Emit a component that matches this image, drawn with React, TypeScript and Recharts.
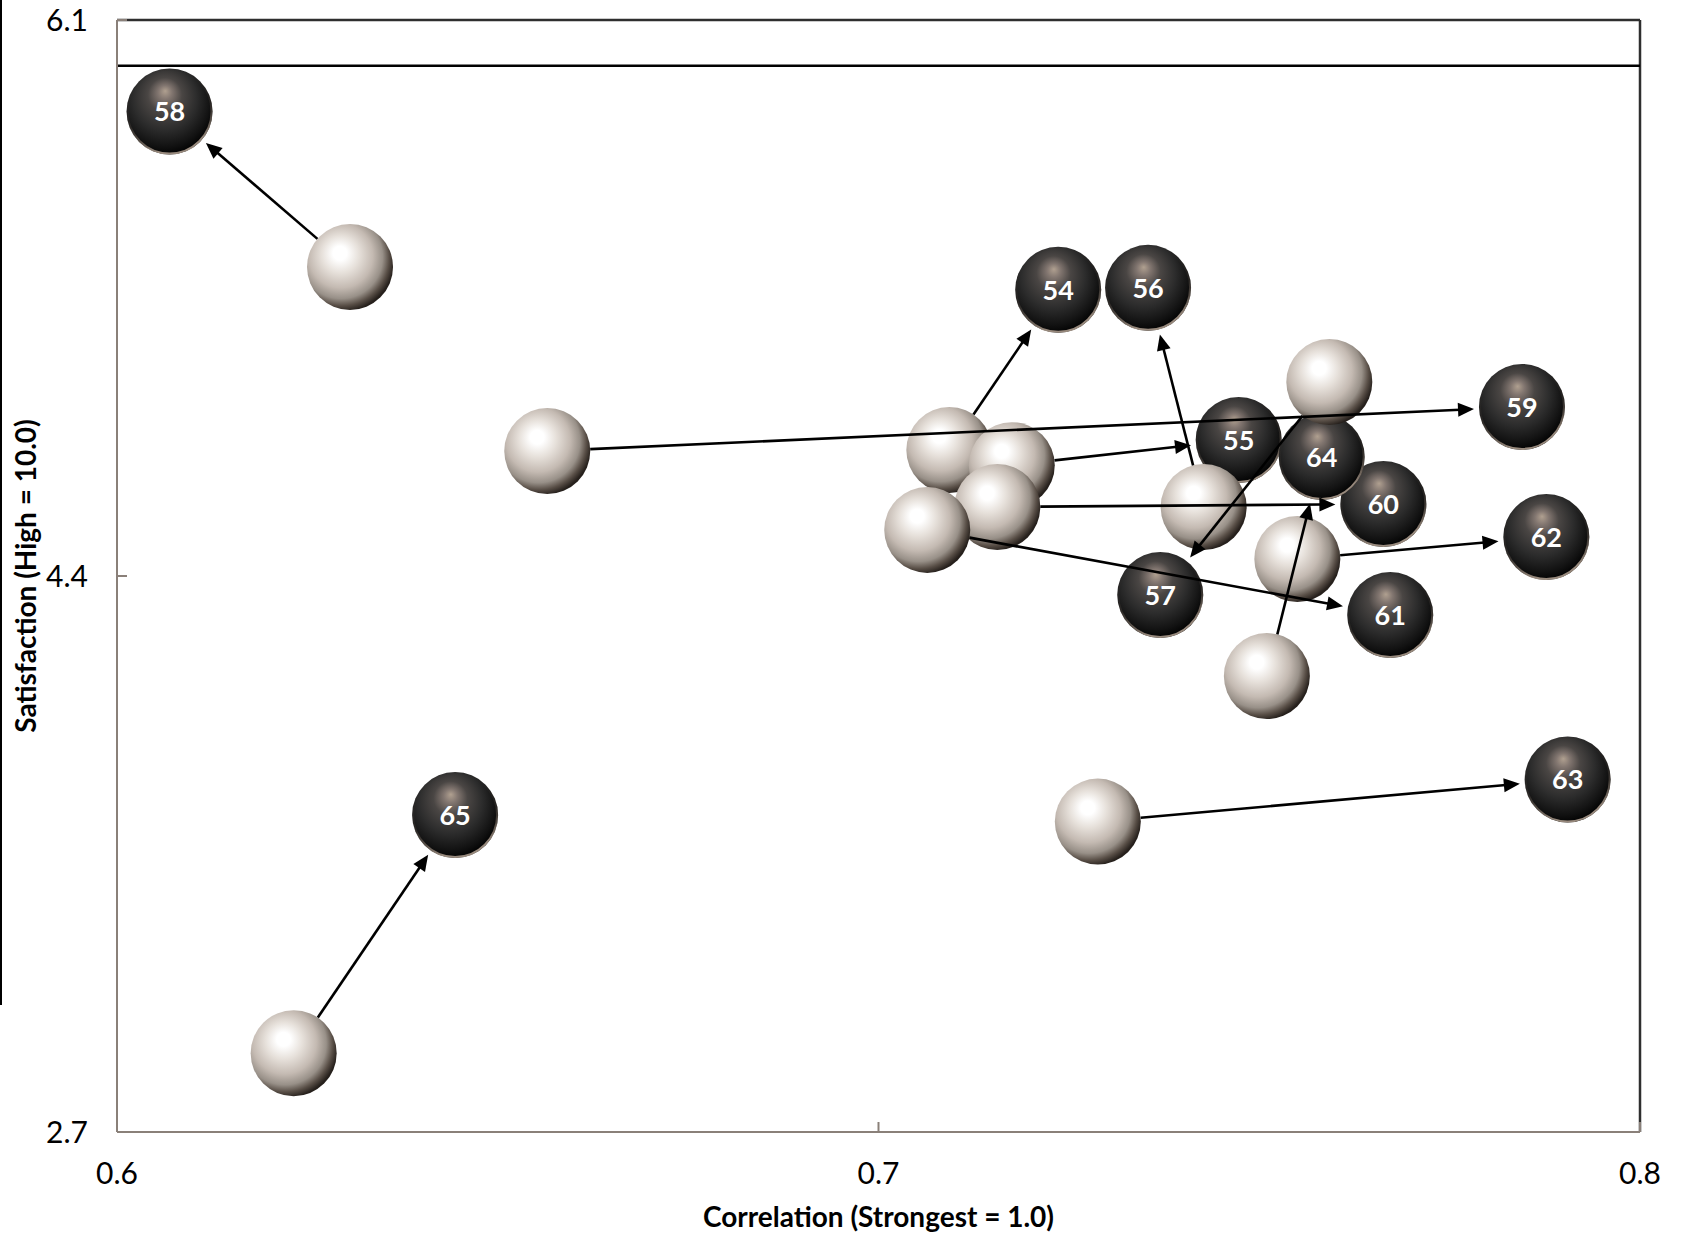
import React from 'react';
import { ScatterChart, Scatter, XAxis, YAxis, ReferenceLine } from 'recharts';

// ---- data ----
const ids = ['54', '55', '56', '57', '58', '59', '60', '61', '62', '63', '64', '65'];
const beforeX = [0.7093, 0.7175, 0.7427, 0.7592, 0.6306, 0.6565, 0.7156, 0.7064, 0.755, 0.7288, 0.751, 0.6232];
const beforeY = [4.785, 4.739, 4.611, 4.993, 5.345, 4.782, 4.611, 4.541, 4.452, 3.649, 4.094, 2.941];
const afterX = [0.7236, 0.7473, 0.7354, 0.737, 0.6069, 0.7845, 0.7663, 0.7672, 0.7877, 0.7905, 0.7582, 0.6444];
const afterY = [5.275, 4.816, 5.281, 4.342, 5.82, 4.917, 4.62, 4.281, 4.519, 3.778, 4.764, 3.669];
const xTicks = [0.6, 0.7, 0.8];
const yTicks = [2.7, 4.4, 6.1];
const benchmarkY = 5.96;
const xTitle = 'Correlation (Strongest = 1.0)';
const yTitle = 'Satisfaction (High = 10.0)';

const beforeData = ids.map((id, i) => ({ id, x: beforeX[i], y: beforeY[i] }));
const afterData = ids.map((id, i) => ({ id, x: afterX[i], y: afterY[i] }));
const pairs = ids.map((id, i) => [beforeData[i], afterData[i]]);

// ---- styles ----
const R = 43;
const FONT = "Lato, 'DejaVu Sans', sans-serif";
const AXIS = '#8a8079';

const DarkBall = (props: any) => {
  const { cx, cy, payload } = props;
  if (cx == null || cy == null) return <g />;
  return (
    <g>
      <circle cx={cx} cy={cy} r={R} fill="url(#darkBall)" />
      <circle cx={cx} cy={cy} r={R - 1} fill="none" stroke="url(#darkRim)" strokeWidth={2} />
      <text x={cx} y={cy} dy="0.36em" textAnchor="middle" fill="#ffffff" fontFamily={FONT} fontWeight={700} fontSize={27}>
        {payload.id}
      </text>
    </g>
  );
};

const LightBall = (props: any) => {
  const { cx, cy } = props;
  if (cx == null || cy == null) return <g />;
  return <circle cx={cx} cy={cy} r={R} fill="url(#lightBall)" />;
};

const Empty = () => <g />;

const renderArrow = (props: any) => {
  const pts = props.points;
  if (!pts || pts.length < 2) return <g />;
  const a = pts[0];
  const b = pts[1];
  const dx = b.x - a.x;
  const dy = b.y - a.y;
  const len = Math.hypot(dx, dy) || 1;
  const ux = dx / len;
  const uy = dy / len;
  const sx = a.x + ux * R;
  const sy = a.y + uy * R;
  const tx = b.x - ux * (R + 5);
  const ty = b.y - uy * (R + 5);
  const head = 16;
  const half = 7;
  const hx = tx - ux * head;
  const hy = ty - uy * head;
  const px = -uy;
  const py = ux;
  return (
    <g>
      <line x1={sx} y1={sy} x2={hx + ux * 2} y2={hy + uy * 2} stroke="#000" strokeWidth={2.6} />
      <polygon
        points={`${tx},${ty} ${hx + px * half},${hy + py * half} ${hx - px * half},${hy - py * half}`}
        fill="#000"
      />
    </g>
  );
};

export default function App() {
  return (
    <div style={{ position: 'absolute', left: 0, top: 0, width: 1683, height: 1233, background: '#fff' }}>
      <svg width={0} height={0} style={{ position: 'absolute' }}>
        <defs>
          <radialGradient id="lightBall" cx="40%" cy="40%" r="62%" fx="38%" fy="33%">
            <stop offset="0%" stopColor="#ffffff" />
            <stop offset="13%" stopColor="#ffffff" />
            <stop offset="35%" stopColor="#e6e0da" />
            <stop offset="60%" stopColor="#c4bab2" />
            <stop offset="78%" stopColor="#989088" />
            <stop offset="90%" stopColor="#584e46" />
            <stop offset="100%" stopColor="#26201c" />
          </radialGradient>
          <radialGradient id="darkBall" cx="44%" cy="40%" r="62%" fx="45%" fy="26%">
            <stop offset="0%" stopColor="#b0a090" />
            <stop offset="13%" stopColor="#827670" />
            <stop offset="32%" stopColor="#4a4644" />
            <stop offset="60%" stopColor="#2c2c2c" />
            <stop offset="85%" stopColor="#121212" />
            <stop offset="100%" stopColor="#000000" />
          </radialGradient>
          <linearGradient id="darkRim" x1="0" y1="0" x2="0.3" y2="1">
            <stop offset="0%" stopColor="#000" stopOpacity={0} />
            <stop offset="60%" stopColor="#6a5e54" stopOpacity={0.2} />
            <stop offset="100%" stopColor="#a8988a" stopOpacity={0.9} />
          </linearGradient>
        </defs>
      </svg>
      <div style={{ position: 'absolute', left: 0, top: 0, width: 2, height: 1005, background: '#000' }} />
      <ScatterChart width={1683} height={1233} margin={{ top: 20, right: 43, bottom: 41, left: 57 }}>
        <XAxis
          type="number"
          dataKey="x"
          domain={[0.6, 0.8]}
          ticks={xTicks}
          tickFormatter={(v: number) => v.toFixed(1)}
          axisLine={{ stroke: AXIS, strokeWidth: 2 }}
          tickLine={{ stroke: AXIS, strokeWidth: 2 }}
          tickSize={-10}
          tickMargin={41}
          tick={{ fill: '#000', fontSize: 30, fontFamily: FONT }}
          height={60}
          allowDataOverflow
          label={{ value: xTitle, position: 'bottom', offset: 15, fill: '#000', fontSize: 28, fontWeight: 700, fontFamily: FONT }}
        />
        <YAxis
          type="number"
          dataKey="y"
          domain={[2.7, 6.1]}
          ticks={yTicks}
          tickFormatter={(v: number) => v.toFixed(1)}
          axisLine={{ stroke: AXIS, strokeWidth: 2 }}
          tickLine={{ stroke: AXIS, strokeWidth: 2 }}
          tickSize={-10}
          tickMargin={39}
          tick={{ fill: '#000', fontSize: 30, fontFamily: FONT }}
          width={60}
          allowDataOverflow
          label={{
            value: yTitle,
            position: 'left',
            angle: -90,
            offset: 31,
            fill: '#000',
            fontSize: 28,
            fontWeight: 700,
            fontFamily: FONT,
            style: { textAnchor: 'middle' },
          }}
        />
        <ReferenceLine y={6.1} stroke="#2e2e2e" strokeWidth={2.5} />
        <ReferenceLine x={0.8} stroke="#2e2e2e" strokeWidth={2.5} />
        <ReferenceLine y={benchmarkY} stroke="#000" strokeWidth={2.5} />
        <Scatter name="after" data={afterData} shape={DarkBall} isAnimationActive={false} />
        <Scatter name="before" data={beforeData} shape={LightBall} isAnimationActive={false} />
        {pairs.map((p, i) => (
          <Scatter
            key={'arrow' + i}
            name={'arrow' + ids[i]}
            data={p}
            shape={Empty}
            line={renderArrow}
            lineType="joint"
            legendType="none"
            isAnimationActive={false}
          />
        ))}
      </ScatterChart>
    </div>
  );
}
